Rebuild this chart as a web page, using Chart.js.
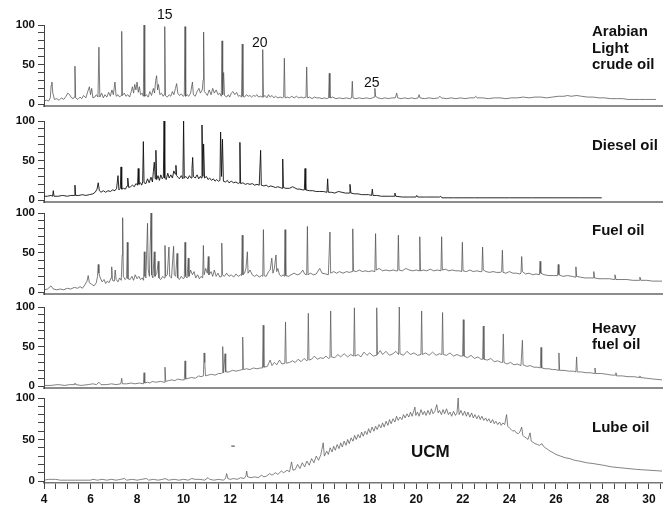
<!DOCTYPE html>
<html lang="en">
<head>
    <meta charset="UTF-8">
    <title>GC traces of oils</title>
    <script src="https://cdn.jsdelivr.net/npm/chart.js"></script>
    <style>
        body { margin: 0; background: #fff; }
        #wrap { position: relative; width: 664px; height: 507px; font-family: "Liberation Sans", Arial, sans-serif; color: #111; }
        #wrap canvas { position: absolute; left: 0; }
        .name { position: absolute; font-weight: bold; font-size: 15px; line-height: 16.5px; white-space: nowrap; }
        .num { position: absolute; font-size: 14px; line-height: 14px; }
        .ucm { position: absolute; font-weight: bold; font-size: 17px; line-height: 17px; }
    </style>
</head>
<body>
<div id="wrap">
    <div class="num" style="left:157px;top:7px">15</div>
    <div class="num" style="left:252px;top:35px">20</div>
    <div class="num" style="left:364px;top:75px">25</div>
    <div class="name" style="left:592px;top:23px">Arabian<br>Light<br>crude oil</div>
    <div class="name" style="left:592px;top:137px">Diesel oil</div>
    <div class="name" style="left:592px;top:222px">Fuel oil</div>
    <div class="name" style="left:592px;top:320px;line-height:15.5px">Heavy<br>fuel oil</div>
    <div class="name" style="left:592px;top:419px">Lube oil</div>
    <div class="ucm" style="left:411px;top:443px">UCM</div>
</div>
<script>
// retention time (min) vs relative abundance (%)
const arabian = [[4.00,4],[4.10,5],[4.20,4],[4.27,8],[4.31,24],[4.34,28],[4.38,14],[4.45,6],[4.55,7],[4.65,5],[4.75,8],[4.85,6],[4.95,10],[5.02,14],[5.10,12],[5.18,8],[5.26,7],[5.30,9],[5.33,48],[5.36,8],[5.45,6],[5.55,9],[5.62,7],[5.70,11],[5.80,8],[5.88,16],[5.95,22],[6.00,12],[6.05,20],[6.10,8],[6.18,9],[6.25,12],[6.32,9],[6.36,72],[6.40,9],[6.48,14],[6.55,8],[6.62,12],[6.70,9],[6.78,15],[6.85,10],[6.92,18],[6.98,12],[7.05,28],[7.10,10],[7.18,12],[7.25,9],[7.31,11],[7.34,92],[7.37,11],[7.45,14],[7.52,10],[7.60,12],[7.68,9],[7.75,16],[7.80,22],[7.85,14],[7.90,25],[7.95,18],[8.00,28],[8.05,15],[8.10,22],[8.15,12],[8.22,14],[8.27,10],[8.30,100],[8.33,10],[8.40,12],[8.48,9],[8.55,16],[8.62,11],[8.70,20],[8.75,14],[8.80,30],[8.84,36],[8.88,18],[8.92,25],[8.98,12],[9.05,14],[9.12,10],[9.16,12],[9.19,98],[9.22,11],[9.30,9],[9.38,12],[9.45,10],[9.52,16],[9.58,12],[9.65,20],[9.70,26],[9.75,14],[9.82,11],[9.90,13],[9.98,10],[10.03,11],[10.06,98],[10.09,10],[10.15,12],[10.22,10],[10.30,14],[10.38,28],[10.42,12],[10.50,10],[10.58,16],[10.66,20],[10.72,14],[10.80,18],[10.84,31],[10.86,91],[10.89,16],[10.95,14],[11.02,11],[11.10,18],[11.18,12],[11.25,20],[11.32,14],[11.40,18],[11.48,12],[11.55,14],[11.62,10],[11.65,80],[11.68,12],[11.72,40],[11.76,11],[11.85,9],[11.92,12],[11.98,9],[12.05,14],[12.12,16],[12.20,12],[12.28,15],[12.35,10],[12.42,11],[12.49,9],[12.52,76],[12.55,10],[12.62,9],[12.70,12],[12.78,10],[12.85,11],[12.92,9],[13.00,11],[13.08,10],[13.15,12],[13.22,9],[13.30,10],[13.37,9],[13.40,69],[13.43,9],[13.50,11],[13.58,8],[13.65,12],[13.72,9],[13.80,11],[13.88,8],[13.95,10],[14.05,8],[14.15,9],[14.25,8],[14.30,9],[14.33,58],[14.36,8],[14.45,9],[14.55,8],[14.65,10],[14.75,8],[14.85,10],[14.95,8],[15.05,9],[15.15,8],[15.26,9],[15.29,47],[15.32,8],[15.42,9],[15.52,7],[15.62,9],[15.72,8],[15.85,8],[15.95,7],[16.05,8],[16.15,7],[16.23,8],[16.26,39],[16.29,8],[16.40,9],[16.55,7],[16.70,8],[16.85,7],[17.00,8],[17.12,7],[17.22,8],[17.25,29],[17.28,8],[17.40,7],[17.55,8],[17.70,7],[17.85,8],[18.00,7],[18.12,8],[18.19,9],[18.22,20],[18.25,10],[18.35,8],[18.50,7],[18.65,8],[18.80,7],[18.95,8],[19.10,8],[19.16,14],[19.20,8],[19.35,7],[19.50,8],[19.65,7],[19.80,8],[19.95,7],[20.08,8],[20.12,12],[20.16,8],[20.35,7],[20.55,8],[20.75,7],[20.95,8],[21.02,10],[21.08,8],[21.30,7],[21.50,8],[21.70,7],[21.90,8],[22.10,7],[22.30,8],[22.50,8],[22.55,10],[22.62,8],[22.85,8],[23.10,7],[23.35,8],[23.60,8],[23.85,7],[24.10,8],[24.35,8],[24.60,9],[24.85,8],[25.10,9],[25.35,9],[25.60,8],[25.85,9],[26.10,10],[26.35,10],[26.50,11],[26.65,10],[26.90,11],[27.10,10],[27.35,9],[27.60,9],[27.85,8],[28.10,8],[28.35,7],[28.60,7],[28.85,7],[29.10,6],[29.35,6],[29.60,6],[29.85,6],[30.10,6],[30.30,6]];

const diesel = [[4.00,5],[4.15,5],[4.30,6],[4.37,5],[4.40,12],[4.43,5],[4.60,5],[4.80,6],[5.00,5],[5.15,6],[5.30,6],[5.33,19],[5.36,6],[5.50,6],[5.65,7],[5.80,6],[5.95,7],[6.10,8],[6.20,10],[6.28,14],[6.33,22],[6.38,12],[6.45,10],[6.55,12],[6.65,10],[6.75,12],[6.85,11],[6.95,13],[7.05,12],[7.12,15],[7.18,31],[7.22,13],[7.28,15],[7.31,42],[7.34,14],[7.42,15],[7.50,14],[7.57,18],[7.60,28],[7.64,16],[7.72,17],[7.80,19],[7.88,17],[7.95,21],[8.02,19],[8.05,40],[8.08,20],[8.15,22],[8.20,19],[8.24,23],[8.27,74],[8.30,22],[8.38,21],[8.45,27],[8.52,22],[8.60,29],[8.66,23],[8.70,36],[8.74,48],[8.78,27],[8.81,63],[8.84,26],[8.90,31],[8.96,25],[9.02,32],[9.08,27],[9.13,29],[9.16,100],[9.19,28],[9.25,26],[9.32,34],[9.38,28],[9.45,32],[9.52,28],[9.58,37],[9.64,33],[9.67,44],[9.70,31],[9.76,29],[9.82,27],[9.90,31],[9.97,27],[10.00,100],[10.03,28],[10.10,30],[10.18,27],[10.25,31],[10.32,28],[10.36,40],[10.39,54],[10.42,30],[10.50,28],[10.58,32],[10.65,27],[10.72,30],[10.76,28],[10.79,95],[10.83,30],[10.86,71],[10.90,28],[10.98,30],[11.05,26],[11.12,28],[11.20,25],[11.28,27],[11.35,24],[11.42,26],[11.50,24],[11.56,25],[11.59,86],[11.63,30],[11.67,77],[11.71,24],[11.80,23],[11.88,25],[11.95,22],[12.05,24],[12.15,22],[12.25,23],[12.35,21],[12.39,22],[12.42,73],[12.45,21],[12.55,22],[12.65,20],[12.75,21],[12.85,20],[12.95,21],[13.05,19],[13.15,20],[13.25,19],[13.28,19],[13.31,63],[13.34,19],[13.45,18],[13.55,19],[13.65,17],[13.75,18],[13.85,17],[13.95,16],[14.05,17],[14.15,16],[14.23,15],[14.26,52],[14.29,16],[14.40,15],[14.55,15],[14.68,17],[14.75,16],[14.88,14],[15.00,14],[15.12,13],[15.19,13],[15.22,40],[15.25,13],[15.40,12],[15.55,12],[15.70,11],[15.85,11],[16.00,11],[16.16,10],[16.19,27],[16.22,10],[16.35,10],[16.50,9],[16.65,11],[16.80,10],[16.95,9],[17.12,9],[17.15,20],[17.19,9],[17.35,8],[17.50,8],[17.65,7],[17.80,7],[17.95,7],[18.08,6],[18.11,14],[18.14,6],[18.30,6],[18.50,5],[18.70,5],[18.90,5],[19.05,5],[19.08,9],[19.12,5],[19.40,4],[19.70,4],[19.98,4],[20.02,6],[20.06,4],[20.40,4],[20.80,4],[21.00,4],[21.05,5],[21.10,3],[21.60,3],[22.00,3],[22.50,3],[23.00,3],[24.00,3],[25.00,3],[26.00,3],[27.00,3],[27.97,3]];

const fuelOil = [[4.00,3],[4.15,4],[4.30,8],[4.40,4],[4.55,3],[4.70,4],[4.85,3],[5.00,5],[5.15,4],[5.30,6],[5.45,5],[5.55,7],[5.65,5],[5.75,9],[5.85,14],[5.90,21],[5.95,12],[6.05,10],[6.15,8],[6.25,12],[6.30,20],[6.33,35],[6.36,24],[6.42,18],[6.50,13],[6.58,16],[6.65,11],[6.72,14],[6.80,12],[6.88,18],[6.91,32],[6.94,15],[7.02,14],[7.06,28],[7.10,16],[7.18,13],[7.25,18],[7.32,15],[7.36,47],[7.38,94],[7.41,20],[7.48,16],[7.55,18],[7.58,63],[7.61,17],[7.70,16],[7.78,20],[7.85,15],[7.92,22],[8.00,17],[8.08,20],[8.15,16],[8.22,18],[8.28,15],[8.31,51],[8.34,20],[8.38,18],[8.45,87],[8.48,28],[8.53,20],[8.60,100],[8.63,22],[8.68,18],[8.74,51],[8.77,20],[8.85,24],[8.91,39],[8.94,18],[9.02,16],[9.10,20],[9.17,18],[9.20,59],[9.23,20],[9.30,22],[9.37,57],[9.40,20],[9.48,18],[9.57,58],[9.60,22],[9.66,20],[9.72,49],[9.75,18],[9.82,16],[9.90,20],[9.98,17],[10.03,18],[10.06,63],[10.09,20],[10.15,18],[10.20,43],[10.23,20],[10.30,28],[10.38,22],[10.45,26],[10.52,18],[10.60,22],[10.68,17],[10.75,20],[10.82,18],[10.85,59],[10.88,22],[10.95,30],[11.02,24],[11.06,45],[11.09,22],[11.18,26],[11.25,20],[11.32,28],[11.40,20],[11.48,24],[11.56,19],[11.61,20],[11.64,62],[11.67,22],[11.75,20],[11.85,24],[11.95,20],[12.05,22],[12.15,19],[12.25,23],[12.35,20],[12.45,22],[12.49,21],[12.52,72],[12.55,22],[12.62,24],[12.68,30],[12.74,51],[12.77,24],[12.85,28],[12.95,22],[13.05,20],[13.15,22],[13.25,19],[13.35,21],[13.40,20],[13.43,79],[13.46,21],[13.55,20],[13.65,26],[13.72,28],[13.79,43],[13.84,24],[13.90,30],[13.97,47],[14.00,26],[14.05,30],[14.12,22],[14.20,20],[14.28,22],[14.33,20],[14.36,79],[14.39,21],[14.50,20],[14.62,22],[14.75,24],[14.88,22],[15.00,23],[15.12,28],[15.20,23],[15.29,22],[15.32,83],[15.35,22],[15.45,24],[15.58,22],[15.70,23],[15.85,30],[15.95,24],[16.10,23],[16.22,22],[16.29,76],[16.32,24],[16.45,26],[16.58,24],[16.70,26],[16.85,24],[17.00,26],[17.12,25],[17.24,26],[17.27,80],[17.30,27],[17.42,26],[17.55,28],[17.68,26],[17.80,27],[17.95,26],[18.10,27],[18.22,26],[18.25,74],[18.28,28],[18.40,30],[18.55,27],[18.70,28],[18.85,27],[19.00,28],[19.12,27],[19.20,27],[19.23,72],[19.26,28],[19.40,27],[19.55,30],[19.70,28],[19.85,27],[20.00,28],[20.12,27],[20.15,70],[20.18,27],[20.30,28],[20.45,27],[20.60,29],[20.75,27],[20.90,28],[21.06,27],[21.09,70],[21.12,28],[21.25,29],[21.40,27],[21.55,28],[21.70,27],[21.85,27],[21.95,26],[21.98,63],[22.01,27],[22.15,26],[22.30,28],[22.45,26],[22.60,27],[22.75,26],[22.82,26],[22.85,57],[22.88,28],[23.00,26],[23.15,25],[23.30,26],[23.45,25],[23.60,25],[23.67,26],[23.70,53],[23.73,25],[23.85,24],[24.00,26],[24.15,24],[24.30,24],[24.45,23],[24.50,24],[24.53,45],[24.56,26],[24.70,23],[24.85,24],[25.00,22],[25.15,23],[25.29,22],[25.32,39],[25.35,24],[25.50,22],[25.70,21],[25.90,21],[26.07,21],[26.10,35],[26.13,22],[26.30,20],[26.50,21],[26.70,20],[26.83,19],[26.86,32],[26.89,20],[27.05,19],[27.25,18],[27.45,18],[27.60,18],[27.63,26],[27.66,18],[27.85,17],[28.10,17],[28.30,17],[28.51,16],[28.54,22],[28.58,16],[28.80,16],[29.05,16],[29.30,15],[29.58,15],[29.61,19],[29.65,15],[29.90,15],[30.15,14],[30.40,14],[30.56,14]];

const heavyFuelOil = [[4.00,1],[4.30,1],[4.60,2],[4.90,1],[5.10,2],[5.30,2],[5.33,4],[5.37,2],[5.60,1],[5.90,2],[6.10,3],[6.25,2],[6.36,5],[6.45,2],[6.70,2],[6.90,3],[7.10,2],[7.30,3],[7.34,10],[7.37,3],[7.55,3],[7.75,4],[7.90,3],[8.10,4],[8.27,3],[8.30,17],[8.33,4],[8.45,5],[8.55,4],[8.65,6],[8.80,5],[9.00,6],[9.17,5],[9.20,24],[9.23,6],[9.35,7],[9.50,8],[9.62,7],[9.75,9],[9.90,8],[10.03,8],[10.06,32],[10.09,9],[10.20,10],[10.35,11],[10.50,10],[10.65,13],[10.75,12],[10.85,13],[10.88,42],[10.91,30],[10.94,13],[11.05,14],[11.20,15],[11.35,14],[11.50,16],[11.62,16],[11.65,17],[11.68,50],[11.72,17],[11.78,41],[11.81,18],[11.95,18],[12.10,20],[12.25,19],[12.40,20],[12.51,21],[12.54,62],[12.57,21],[12.70,22],[12.85,21],[13.00,23],[13.15,22],[13.30,23],[13.39,23],[13.42,77],[13.45,24],[13.60,25],[13.72,33],[13.80,26],[13.90,30],[14.00,27],[14.12,33],[14.22,28],[14.35,29],[14.38,81],[14.41,29],[14.55,30],[14.68,32],[14.80,30],[14.92,34],[15.05,31],[15.18,35],[15.30,32],[15.33,33],[15.36,92],[15.39,33],[15.50,34],[15.62,38],[15.75,34],[15.88,36],[16.00,35],[16.12,38],[16.22,35],[16.29,36],[16.32,95],[16.35,37],[16.50,36],[16.62,40],[16.75,37],[16.90,41],[17.05,37],[17.18,40],[17.31,38],[17.34,99],[17.37,38],[17.50,40],[17.62,37],[17.75,43],[17.88,39],[18.00,42],[18.15,38],[18.27,39],[18.30,99],[18.33,40],[18.45,45],[18.55,40],[18.70,44],[18.85,39],[19.00,41],[19.12,44],[19.24,40],[19.27,100],[19.30,41],[19.45,39],[19.60,44],[19.75,40],[19.90,42],[20.05,39],[20.20,40],[20.23,95],[20.26,40],[20.40,42],[20.55,39],[20.70,43],[20.85,39],[21.00,41],[21.10,40],[21.13,93],[21.16,40],[21.30,39],[21.45,42],[21.60,38],[21.75,40],[21.90,38],[21.99,38],[22.02,84],[22.05,38],[22.20,36],[22.35,39],[22.50,35],[22.65,37],[22.78,34],[22.85,34],[22.88,76],[22.91,34],[23.05,33],[23.20,35],[23.35,31],[23.50,32],[23.65,30],[23.71,30],[23.74,66],[23.77,30],[23.90,28],[24.05,30],[24.20,27],[24.35,28],[24.50,26],[24.56,58],[24.59,27],[24.75,25],[24.90,26],[25.05,24],[25.20,24],[25.33,23],[25.36,49],[25.39,23],[25.55,22],[25.70,22],[25.85,21],[26.00,21],[26.10,20],[26.13,42],[26.16,20],[26.35,20],[26.55,19],[26.75,19],[26.86,18],[26.89,37],[26.92,18],[27.10,18],[27.30,17],[27.50,17],[27.65,16],[27.68,23],[27.71,16],[27.95,16],[28.20,15],[28.40,14],[28.55,14],[28.58,17],[28.61,13],[28.85,13],[29.10,12],[29.35,12],[29.58,11],[29.61,13],[29.64,11],[29.90,10],[30.20,9],[30.56,8]];

const lubeOil = [[4.00,1],[4.20,2],[4.35,2],[4.50,2],[4.70,1],[5.00,1],[5.50,1],[6.00,1],[6.10,2],[6.30,1],[6.50,2],[6.70,1],[6.90,2],[7.10,1],[7.30,2],[7.45,3],[7.55,1],[7.80,2],[8.00,1],[8.20,2],[8.40,3],[8.50,1],[8.70,2],[8.90,1],[9.10,2],[9.20,3],[9.35,1],[9.60,2],[9.80,1],[10.00,2],[10.20,1],[10.35,3],[10.50,2],[10.70,2],[10.90,1],[11.05,4],[11.12,2],[11.30,1],[11.50,2],[11.70,1],[11.80,3],[11.85,9],[11.90,3],[12.00,2],[12.15,3],[12.30,2],[12.45,4],[12.60,3],[12.68,6],[12.71,12],[12.75,5],[12.90,4],[13.05,5],[13.20,4],[13.35,7],[13.45,5],[13.57,6],[13.70,9],[13.80,7],[13.95,10],[14.05,8],[14.20,12],[14.30,10],[14.45,13],[14.55,11],[14.64,23],[14.70,13],[14.80,14],[14.90,20],[15.00,15],[15.10,22],[15.20,17],[15.30,24],[15.40,19],[15.50,27],[15.60,22],[15.70,30],[15.80,25],[15.90,32],[16.00,46],[16.05,30],[16.15,36],[16.22,32],[16.30,40],[16.38,35],[16.45,42],[16.52,37],[16.60,44],[16.68,39],[16.75,46],[16.82,41],[16.90,48],[16.98,43],[17.05,50],[17.12,45],[17.20,52],[17.28,48],[17.35,55],[17.42,50],[17.50,56],[17.58,52],[17.65,59],[17.72,54],[17.80,60],[17.88,56],[17.95,63],[18.02,58],[18.10,65],[18.18,60],[18.25,66],[18.32,62],[18.40,68],[18.48,64],[18.55,70],[18.62,65],[18.70,72],[18.78,67],[18.85,74],[18.92,69],[19.00,75],[19.08,71],[19.15,78],[19.22,73],[19.30,77],[19.38,74],[19.45,80],[19.52,76],[19.60,81],[19.68,77],[19.75,83],[19.82,78],[19.90,85],[19.94,89],[19.98,79],[20.05,83],[20.12,78],[20.20,86],[20.28,80],[20.35,84],[20.42,79],[20.50,85],[20.58,80],[20.65,87],[20.72,81],[20.80,84],[20.88,92],[20.94,82],[21.00,85],[21.08,80],[21.15,86],[21.22,81],[21.30,87],[21.38,80],[21.45,83],[21.52,78],[21.60,84],[21.68,79],[21.75,82],[21.80,100],[21.84,80],[21.92,85],[22.00,79],[22.08,84],[22.15,78],[22.22,83],[22.30,77],[22.38,82],[22.45,76],[22.52,80],[22.60,75],[22.68,79],[22.75,74],[22.82,78],[22.90,73],[22.98,76],[23.05,72],[23.12,75],[23.20,70],[23.28,74],[23.35,69],[23.42,72],[23.50,68],[23.58,71],[23.65,67],[23.72,70],[23.80,68],[23.88,80],[23.93,66],[24.00,64],[24.08,62],[24.15,60],[24.22,61],[24.30,58],[24.38,57],[24.45,59],[24.53,65],[24.58,55],[24.65,53],[24.72,52],[24.80,50],[24.89,58],[24.94,48],[25.00,47],[25.10,45],[25.20,44],[25.30,43],[25.40,45],[25.46,42],[25.55,40],[25.65,38],[25.75,36],[25.89,34],[26.00,32],[26.20,30],[26.40,28],[26.60,27],[26.80,25],[27.00,24],[27.32,22],[27.60,21],[28.04,19],[28.40,17],[28.75,16],[29.10,15],[29.47,14],[30.00,13],[30.56,12]];

// small stray mark in the lube oil panel
const lubeMark = [[12.05,42],[12.20,42]];

const xTickLabels = [4, 6, 8, 10, 12, 14, 16, 18, 20, 22, 24, 26, 28, 30];
const yTickValues = [0, 10, 20, 30, 40, 50, 60, 70, 80, 90, 100];
const yTickLabels = [0, 50, 100];

const traces = [arabian, diesel, fuelOil, heavyFuelOil, lubeOil];
const lineColors = ['#505050', '#111', '#505050', '#5a5a5a', '#5a5a5a'];
const panelTops = [25, 121, 213, 307, 398];

const tickFont = { family: '"Liberation Sans", Arial, sans-serif', weight: 'bold' };
const wrap = document.getElementById('wrap');

traces.forEach((trace, i) => {
    const last = i === traces.length - 1;
    const canvas = document.createElement('canvas');
    canvas.width = 664;
    canvas.height = last ? 127 : 103;
    canvas.style.top = (panelTops[i] - 12) + 'px';
    wrap.insertBefore(canvas, wrap.firstChild);

    const datasets = [{
        data: trace.map(p => ({ x: p[0], y: p[1] })),
        borderColor: lineColors[i],
        borderWidth: i === 1 ? 0.9 : 0.75,
        pointRadius: 0,
        tension: 0
    }];
    if (last) {
        datasets.push({
            data: lubeMark.map(p => ({ x: p[0], y: p[1] })),
            borderColor: '#777',
            borderWidth: 1.5,
            pointRadius: 0
        });
    }

    const xScale = {
        type: 'linear',
        min: 4,
        max: 30.56,
        border: { color: '#8c8c8c', width: 2 },
        grid: { display: false },
        ticks: { display: false },
        afterFit: axis => { axis.height = 0; }
    };
    if (last) {
        Object.assign(xScale, {
            border: { color: '#777', width: 1.5 },
            grid: { display: true, drawOnChartArea: false, tickLength: 6, tickColor: '#444' },
            ticks: {
                display: true,
                autoSkip: false,
                maxRotation: 0,
                padding: 3,
                color: '#111',
                font: Object.assign({ size: 12 }, tickFont),
                callback: v => xTickLabels.includes(v) ? String(v) : ''
            },
            afterBuildTicks: axis => {
                const t = [];
                for (let v = 4; v <= 30.5; v += 0.5) t.push({ value: v });
                axis.ticks = t;
            },
            afterFit: axis => { axis.height = 30; }
        });
    }

    new Chart(canvas, {
        type: 'line',
        data: { datasets },
        options: {
            responsive: false,
            animation: false,
            events: [],
            layout: { padding: { top: 12, right: 2, bottom: last ? 0 : 6, left: 0 } },
            plugins: { legend: { display: false }, tooltip: { enabled: false } },
            scales: {
                x: xScale,
                y: {
                    min: -2.4,
                    max: 100,
                    border: { color: '#444', width: 1 },
                    grid: { drawOnChartArea: false, tickLength: 6, tickColor: '#444' },
                    ticks: {
                        autoSkip: false,
                        padding: 3,
                        color: '#111',
                        font: Object.assign({ size: 11.5 }, tickFont),
                        callback: v => yTickLabels.includes(v) ? String(v) : ''
                    },
                    afterBuildTicks: axis => { axis.ticks = yTickValues.map(v => ({ value: v })); },
                    afterFit: axis => { axis.width = 44; }
                }
            }
        }
    });
});
</script>
</body>
</html>
